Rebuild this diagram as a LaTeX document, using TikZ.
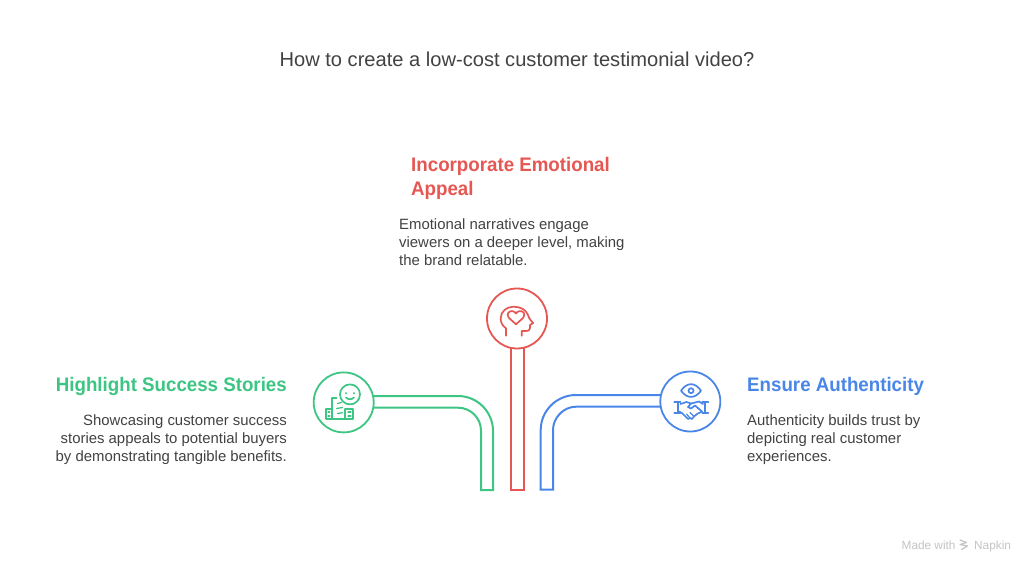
\documentclass[tikz,border=0pt]{standalone}
\usepackage{fontspec}
\usetikzlibrary{backgrounds}
\setmainfont{Liberation Sans}
\definecolor{gr}{HTML}{3CC583}
\definecolor{rd}{HTML}{E55753}
\definecolor{bl}{HTML}{4A86E8}
\definecolor{ink}{HTML}{424242}
\definecolor{wmgray}{HTML}{C4C4C4}
\newfontfamily\headfont[FakeStretch=0.955]{Liberation Sans Bold}
\tikzset{
  ring/.style={circle,draw=#1,line width=1.8pt,minimum size=60pt,inner sep=0pt,fill=white},
  pipe/.style={draw=#1,line width=2pt,line join=miter},
  icon/.style={draw=#1,line width=1.7pt,line cap=round,line join=round},
  head/.style={text=#1,font=\fontsize{19.6}{24}\headfont,inner sep=0pt},
  body/.style={text=ink,font=\fontsize{14.9}{18}\selectfont,inner sep=0pt},
  titlebox/.style={text=ink,font=\fontsize{20.1}{24}\selectfont,inner sep=0pt},
  markbox/.style={text=wmgray,font=\fontsize{11.8}{13}\selectfont,inner sep=0pt}
}
\begin{document}
\begin{tikzpicture}[x=1pt,y=-1pt]
\useasboundingbox (0,0) rectangle (1034,572);

\node[titlebox,anchor=base] (title) at (517,67) {How to create a low-cost customer testimonial video?};

% circles
\node[ring=gr] (g) at (343.7,402.4) {};
\node[ring=rd] (r) at (517,318.5) {};
\node[ring=bl] (b) at (690.3,401.5) {};

% pipe reference points
\coordinate (gTop) at (458,396);
\coordinate (gLow) at (458,407.7);
\coordinate (gEndA) at (493,490);
\coordinate (gEndB) at (481,490);
\coordinate (rEndA) at (510.7,490);
\coordinate (rEndB) at (523.5,490);
\coordinate (bTop) at (576,395);
\coordinate (bLow) at (576,406.7);
\coordinate (bEndA) at (540.7,489.5);
\coordinate (bEndB) at (553,489.5);

% pipes, under the circles
\begin{scope}[on background layer]
\path[fill=white] (0,0) rectangle (1034,572);
\draw[pipe=gr] (g.center |- gTop) -- (gTop) .. controls (477.3,396) and (493,411.7) .. (493,431) -- (gEndA) -- (gEndB) -- (481,430.7) .. controls (481,418) and (470.7,407.7) .. (gLow) -- (g.center |- gLow);
\draw[pipe=rd] (r.center -| rEndA) -- (rEndA) -- (rEndB) -- (r.center -| rEndB);
\draw[pipe=bl] (b.center |- bTop) -- (bTop) .. controls (556.7,395) and (540.7,410.7) .. (540.7,430) -- (bEndA) -- (bEndB) -- (553,430) .. controls (553,418) and (563.3,406.7) .. (bLow) -- (b.center |- bLow);
\end{scope}

% head icon
\draw[icon=rd] (506,335.7) -- (506,328.3) .. controls (502,325.5) and (500.5,322) .. (500.7,318) .. controls (501,311) and (507,306.7) .. (513.5,306.7) .. controls (520,306.7) and (525.5,309.5) .. (527.5,314) .. controls (528.5,317) and (529.5,319.5) .. (533.2,323) -- (530,325) -- (530,328) .. controls (530,330.5) and (528,331) .. (526,331) -- (521.7,331) -- (521.7,335.7);
\draw[icon=rd] (516,324.3) -- (509,318) .. controls (505.5,314) and (509.5,310) .. (513,311.3) .. controls (514.5,311.8) and (515.5,312.5) .. (516,313.5) .. controls (516.5,312.5) and (517.5,311.8) .. (519,311.3) .. controls (522.5,310) and (526.5,314) .. (523,318) -- cycle;

% smile and building icon
\draw[icon=gr] (350,394.4) circle[radius=10];
\draw[icon=gr] (346,393) -- (346,393.5) (354,393) -- (354,393.5);
\draw[icon=gr] (346,397.5) .. controls (348,399.8) and (352,399.8) .. (354,397.5);
\draw[icon=gr] (331.7,409.3) -- (325.7,409.3) -- (325.7,419) -- (353.3,419) -- (353.3,409.3) -- (345,409.3);
\draw[icon=gr] (331.7,419) -- (331.7,398.3) -- (336.5,398.3);
\draw[icon=gr] (345,409.3) -- (345,419);
\draw[icon=gr,line width=1.3pt] (337.5,403.5) -- (341.5,402.5) (336.5,408.5) -- (342.5,407.5) (337.5,413.5) -- (342.5,412.8);
\draw[icon=gr,line width=1.3pt] (328,412) -- (329.8,412) (328,416) -- (329.8,416) (348,412) -- (351,412) (348,416) -- (351,416);

% eye and handshake icon
\draw[icon=bl] (681,390.7) .. controls (687,382) and (695,382) .. (701,390.7) .. controls (695,399) and (687,399) .. (681,390.7) -- cycle;
\draw[icon=bl] (691,390.7) circle[radius=2.5];
\draw[icon=bl] (674.3,401.7) -- (680.5,401.7) (677.7,401.7) -- (677.7,413.3) (674.3,413.3) -- (680.5,413.3);
\draw[icon=bl] (702.2,401.7) -- (708.3,401.7) (705,401.7) -- (705,413.3) (702.2,413.3) -- (708.3,413.3);
\draw[icon=bl] (680.5,404) -- (686.5,402) -- (691,403.5) -- (699,401.5) -- (703,404);
\draw[icon=bl] (679,411.5) -- (682,413) -- (688,419) -- (690,418) -- (692,419) -- (694,416.5) -- (697,414) -- (702,411.5);
\draw[icon=bl] (691,403.5) -- (688,407) -- (691,408.5) -- (695,405.5) -- (702,411.5);
\draw[icon=bl,line width=1.2pt] (690,418) -- (686.5,414) (694,416.5) -- (690,412.5);

% labels
\node[head=gr,anchor=base east] (gh) at (287,391) {Highlight Success Stories};
\node[body,anchor=north east,align=right] (gt) at (287,414.5) {Showcasing customer success\\stories appeals to potential buyers\\by demonstrating tangible benefits.};
\node[head=rd,anchor=north west,align=left] (rh) at (411,157) {Incorporate Emotional\\Appeal};
\node[body,anchor=north west,align=left] (rt) at (399,218.5) {Emotional narratives engage\\viewers on a deeper level, making\\the brand relatable.};
\node[head=bl,anchor=base west] (bh) at (747,391) {Ensure Authenticity};
\node[body,anchor=north west,align=left] (bt) at (747,414.5) {Authenticity builds trust by\\depicting real customer\\experiences.};

% watermark
\node[markbox,anchor=base west] (m1) at (901.5,549) {Made with};
\node[markbox,anchor=base west] (m2) at (974,549) {Napkin};
\draw[wmgray,line width=1.2pt,line cap=round,line join=round] (960,540) -- (966.5,542.5) -- (960,544.5) -- (967.5,546) -- (961.5,549.5);
\end{tikzpicture}
\end{document}
